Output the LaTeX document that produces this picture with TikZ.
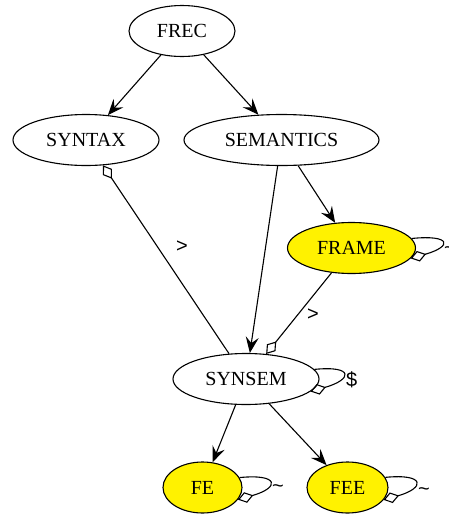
\documentclass[tikz,border=0pt]{standalone}
\usepackage{fontspec}
\setmainfont{Liberation Serif}
\newfontfamily\labelfont{Liberation Sans}
\usetikzlibrary{arrows.meta,shapes.geometric}

\begin{document}
\begin{tikzpicture}[x=1pt,y=-1pt]
\tikzset{
  vertex/.style={draw, ellipse, line width=1.1pt, inner sep=0pt,
    minimum height=51pt, font=\fontsize{20}{24}\selectfont},
  hilite/.style={vertex, fill=yellow},
  link/.style={line width=1.1pt},
  vee/.style={-{Stealth[length=16pt,width=13pt,inset=6pt]}},
  odiamond/.tip={Diamond[open,length=16pt,width=11pt]},
  flow/.style={link, vee},
  tied/.style={link, odiamond-},
  selfloop/.style={link, -odiamond},
  edgelabel/.style={font=\labelfont\fontsize{20}{24}\selectfont, inner sep=0pt},
}
\useasboundingbox (0,0) rectangle (448,515);

% nodes
\node[vertex, minimum width=106pt] (FREC)      at (182,31)    {FREC};
\node[vertex, minimum width=146pt] (SYNTAX)    at (86,140)    {SYNTAX};
\node[vertex, minimum width=195pt] (SEMANTICS) at (281.5,140) {SEMANTICS};
\node[hilite, minimum width=128pt] (FRAME)     at (351.5,248) {FRAME};
\node[vertex, minimum width=146pt] (SYNSEM)    at (246,379)   {SYNSEM};
\node[hilite, minimum width=79pt]  (FE)        at (202.5,487.5) {FE};
\node[hilite, minimum width=81pt]  (FEE)       at (347.5,487.5) {FEE};

% directed edges
\draw[flow] (FREC) -- (SYNTAX);
\draw[flow] (FREC) -- (SEMANTICS);
\draw[flow] (SEMANTICS) -- (FRAME);
\draw[flow] (SEMANTICS) -- (SYNSEM);
\draw[flow] (SYNSEM) -- (FE);
\draw[flow] (SYNSEM) -- (FEE);

% diamond-tailed edges
\draw[tied] (SYNTAX) -- (SYNSEM);
\draw[link, -odiamond] (FRAME) -- (SYNSEM);
\node[edgelabel, anchor=base] (gt1) at (182,252) {>};
\node[edgelabel, anchor=base] (gt2) at (313,320) {>};

% self loops
\draw[selfloop] (SYNSEM.8) .. controls +(40,-4) and +(42,-12) .. (SYNSEM.-11);
\node[edgelabel, anchor=base west] (dollar) at (346,386) {\$};

\draw[selfloop] (FRAME.9) .. controls +(40,-4) and +(42,-12) .. (FRAME.-10);
\node[edgelabel, anchor=base west] (tfr) at (444,254) {\char`\~};

\draw[selfloop] (FE.15) .. controls +(40,-4) and +(42,-12) .. (FE.-19);
\node[edgelabel, anchor=base west] (tfe) at (272,492) {\char`\~};

\draw[selfloop] (FEE.15) .. controls +(40,-4) and +(42,-12) .. (FEE.-19);
\node[edgelabel, anchor=base west] (tfee) at (418,495) {\char`\~};
\end{tikzpicture}
\end{document}
